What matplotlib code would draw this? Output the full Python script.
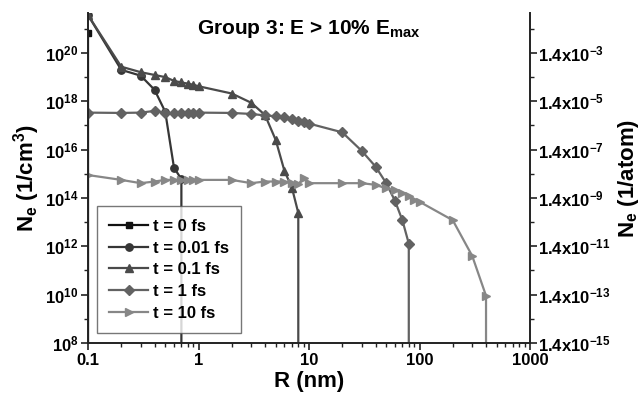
import matplotlib
matplotlib.use("Agg")
import matplotlib.pyplot as plt
from matplotlib.ticker import FixedLocator, FixedFormatter, NullFormatter
import numpy as np

plt.rcParams['font.family'] = ['Liberation Sans', 'DejaVu Sans']
plt.rcParams['font.weight'] = 'bold'
plt.rcParams['mathtext.fontset'] = 'custom'
plt.rcParams['mathtext.rm'] = 'Liberation Sans:bold'
plt.rcParams['mathtext.it'] = 'Liberation Sans:bold'
plt.rcParams['mathtext.bf'] = 'Liberation Sans:bold'
plt.rcParams['mathtext.default'] = 'rm'

# ---- data ----
R_t0 = [0.1, 0.106]
N_t0 = [7e20, 0]

R_t001 = [0.1, 0.2, 0.3, 0.4, 0.5, 0.6, 0.7, 0.7]
N_t001 = [3.7e21, 2e19, 1.15e19, 3e18, 3.7e17, 1.8e15, 6e14, 0]

R_t01 = [0.1, 0.2, 0.3, 0.4, 0.5, 0.6, 0.7, 0.8, 0.9, 1, 2, 3, 4, 5, 6, 7, 8, 8]
N_t01 = [3.7e21, 2.7e19, 1.6e19, 1.23e19, 1e19, 7e18, 6e18, 5.4e18, 4.8e18, 4.2e18,
         2.1e18, 8.7e17, 2.7e17, 2.5e16, 1.3e15, 2.7e14, 2.4e13, 0]

R_t1 = [0.1, 0.2, 0.3, 0.4, 0.5, 0.6, 0.7, 0.8, 0.9, 1,
        2, 3, 4, 5, 6, 7, 8, 9, 10,
        20, 30, 40, 50, 60, 70, 80, 80]
N_t1 = [3.4e17, 3.3e17, 3.4e17, 4.0e17, 3.3e17, 3.3e17, 3.3e17, 3.3e17, 3.3e17, 3.4e17,
        3.3e17, 3.0e17, 2.6e17, 2.4e17, 2.2e17, 1.9e17, 1.6e17, 1.4e17, 1.2e17,
        5.2e16, 8.9e15, 2.0e15, 4.1e14, 7.6e13, 1.2e13, 1.3e12, 0]

R_t10 = [0.1, 0.2, 0.3, 0.4, 0.5, 0.6, 0.7, 0.8, 0.9, 1,
         2, 3, 4, 5, 6, 7, 8, 9, 10,
         20, 30, 40, 50, 60, 70, 80, 90, 100,
         200, 300, 400, 400]
N_t10 = [8.9e14, 5.6e14, 4.1e14, 4.8e14, 5.6e14, 5.6e14, 5.6e14, 5.6e14, 5.6e14, 5.6e14,
         5.6e14, 4.1e14, 4.8e14, 4.8e14, 4.8e14, 4.3e14, 3.8e14, 6.6e14, 4.1e14,
         4.1e14, 4.1e14, 3.5e14, 2.5e14, 2.1e14, 1.6e14, 1.2e14, 8.5e13, 7e13,
         1.2e13, 4e11, 9e9, 0]

labels = ["t = 0 fs", "t = 0.01 fs", "t = 0.1 fs", "t = 1 fs", "t = 10 fs"]
colors = ["#111111", "#363636", "#4a4a4a", "#626262", "#878787"]
markers = ["s", "o", "^", "D", ">"]
msizes = [5, 5.3, 6, 4.8, 6]

x_ticks = [0.1, 1, 10, 100, 1000]
x_ticklabels = ["0.1", "1", "10", "100", "1000"]
y_exps = [8, 10, 12, 14, 16, 18, 20]
right_exps = [-15, -13, -11, -9, -7, -5, -3]
conv = 1.4e-23  # 1/cm^3 -> 1/atom

fig = plt.figure(figsize=(6.44, 4.03), dpi=100)
ax = fig.add_axes([88/644, 1 - 343/403, (530-88)/644, (343-13)/403])
ax.set_xscale('log')
ax.set_yscale('log', nonpositive='clip')

series = [(R_t0, N_t0), (R_t001, N_t001), (R_t01, N_t01), (R_t1, N_t1), (R_t10, N_t10)]
for (R, N), lab, c, m, ms in zip(series, labels, colors, markers, msizes):
    ax.plot(R, N, color=c, marker=m, markersize=ms, linewidth=1.6, label=lab,
            markeredgecolor=c, markerfacecolor=c, clip_on=True)

ax.set_xlim(0.1, 1000)
ylim = (1e8, 4.5e21)
ax.set_ylim(*ylim)

ax.spines['top'].set_visible(False)
ax.spines['right'].set_visible(False)
for s in ['left', 'bottom']:
    ax.spines[s].set_linewidth(1.4)
    ax.spines[s].set_color('#222222')

ax.xaxis.set_major_locator(FixedLocator(x_ticks))
ax.xaxis.set_major_formatter(FixedFormatter(x_ticklabels))
ax.xaxis.set_minor_locator(FixedLocator([k * 10.0**e for e in range(-1, 3) for k in range(2, 10)]))
ax.xaxis.set_minor_formatter(NullFormatter())

ax.yaxis.set_major_locator(FixedLocator([10.0**e for e in y_exps]))
ax.yaxis.set_major_formatter(FixedFormatter([r"$10^{%d}$" % e for e in y_exps]))
ax.yaxis.set_minor_locator(FixedLocator([10.0**(e + 1) for e in y_exps]))
ax.yaxis.set_minor_formatter(NullFormatter())

ax.tick_params(axis='both', which='major', direction='out', length=5, width=1.2,
               labelsize=12, color='#222222', pad=2)
ax.tick_params(axis='both', which='minor', direction='out', length=3, width=1.0,
               color='#222222')

ax.set_xlabel("R (nm)", fontsize=16, fontweight='bold', labelpad=2)
ax.set_ylabel(r"N$_\mathregular{e}$ (1/cm$^\mathregular{3}$)", fontsize=16, fontweight='bold', labelpad=2)

# right axis
ax2 = ax.twinx()
ax2.set_yscale('log')
ax2.set_ylim(ylim[0] * conv, ylim[1] * conv)
ax2.spines['top'].set_visible(False)
ax2.spines['left'].set_visible(False)
ax2.spines['bottom'].set_visible(False)
ax2.spines['right'].set_linewidth(1.4)
ax2.spines['right'].set_color('#222222')
ax2.yaxis.set_major_locator(FixedLocator([1.4 * 10.0**e for e in right_exps]))
ax2.yaxis.set_major_formatter(FixedFormatter([r"1.4x10$^{%d}$" % e for e in right_exps]))
ax2.yaxis.set_minor_locator(FixedLocator([1.4 * 10.0**(e + 1) for e in right_exps]))
ax2.yaxis.set_minor_formatter(NullFormatter())
ax2.tick_params(axis='y', which='major', direction='out', length=5, width=1.2,
                labelsize=12, color='#222222', pad=1)
ax2.tick_params(axis='y', which='minor', direction='out', length=3, width=1.0,
                color='#222222')
ax2.set_ylabel(r"N$_\mathregular{e}$ (1/atom)", fontsize=16, fontweight='bold', labelpad=4)

leg = ax.legend(loc='lower left', bbox_to_anchor=(0.02, 0.03), borderaxespad=0,
                fontsize=12, frameon=True, fancybox=False, handlelength=2.3,
                labelspacing=0.4, handletextpad=0.3, borderpad=0.75)
leg.get_frame().set_edgecolor('#555555')
leg.get_frame().set_linewidth(1.0)
for t in leg.get_texts():
    t.set_fontweight('bold')

ax.text(0.5, 0.985, r"Group 3: E > 10% E$_\mathregular{max}$", transform=ax.transAxes,
        ha='center', va='top', fontsize=15, fontweight='bold')

fig.savefig("out.png", dpi=100)
